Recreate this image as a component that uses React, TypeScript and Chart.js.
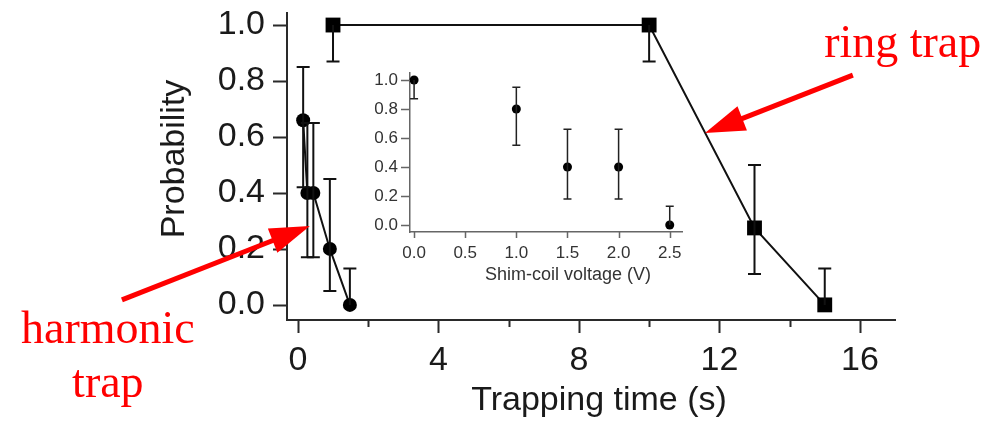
import React, { useEffect, useRef } from 'react';
import { Chart, registerables } from 'chart.js';

Chart.register(...registerables);

// ---------- data ----------
const harmonicTime = [0.15, 0.27, 0.44, 0.91, 1.48];
const harmonicProb = [0.66, 0.4, 0.4, 0.2, 0.0];
const harmonicLow = [0.42, 0.17, 0.17, 0.05, 0.0];
const harmonicHigh = [0.85, 0.65, 0.65, 0.45, 0.13];

const ringTime = [1.0, 10.0, 13.0, 15.0];
const ringProb = [1.0, 1.0, 0.275, 0.0];
const ringLow = [0.87, 0.87, 0.11, 0.0];
const ringHigh = [1.0, 1.0, 0.5, 0.13];

const shimVoltage = [0.0, 1.0, 1.5, 2.0, 2.5];
const shimProb = [1.0, 0.8, 0.4, 0.4, 0.0];
const shimLow = [0.87, 0.55, 0.18, 0.18, 0.0];
const shimHigh = [1.0, 0.95, 0.66, 0.66, 0.13];

// tick values / labels
const mainXTicks = [0, 2, 4, 6, 8, 10, 12, 14, 16];
const mainXLabeled = [0, 4, 8, 12, 16];
const mainYTicks = [0, 0.2, 0.4, 0.6, 0.8, 1.0];
const insetXTicks = [0, 0.5, 1.0, 1.5, 2.0, 2.5];
const insetYTicks = [0, 0.2, 0.4, 0.6, 0.8, 1.0];

// texts
const mainXTitle = 'Trapping time (s)';
const mainYTitle = 'Probability';
const insetXTitle = 'Shim-coil voltage (V)';

// annotations (in main-chart data coordinates)
const arrowTailTime = [-5.01, 15.8];
const arrowTailProb = [0.018, 0.821];
const arrowTipTime = [0.34, 11.59];
const arrowTipProb = [0.282, 0.614];
const noteText = ['ring trap', 'harmonic', 'trap'];
const noteTime = [17.22, -5.41, -5.41];
const noteProb = [0.886, -0.136, -0.329];

const SANS = '"Liberation Sans", Arial, Helvetica, sans-serif';
const SERIF = '"Liberation Serif", "Times New Roman", serif';

const pts = (xs: number[], ys: number[]) => xs.map((x, i) => ({ x, y: ys[i] }));

function errorBarPlugin(capHalf: number, lw: number, color: string) {
  return {
    id: 'errorBars',
    afterDatasetsDraw(chart: any) {
      const { ctx, scales } = chart;
      const x = scales.x, y = scales.y;
      chart.data.datasets.forEach((ds: any) => {
        if (!ds.errLow) return;
        ctx.save();
        ctx.strokeStyle = color;
        ctx.lineWidth = lw;
        ds.data.forEach((p: any, i: number) => {
          const px = x.getPixelForValue(p.x);
          const py = y.getPixelForValue(p.y);
          const yl = y.getPixelForValue(ds.errLow[i]);
          const yh = y.getPixelForValue(ds.errHigh[i]);
          ctx.beginPath();
          ctx.moveTo(px, yl);
          ctx.lineTo(px, yh);
          if (Math.abs(yl - py) > 1) {
            ctx.moveTo(px - capHalf, yl);
            ctx.lineTo(px + capHalf, yl);
          }
          if (Math.abs(yh - py) > 1) {
            ctx.moveTo(px - capHalf, yh);
            ctx.lineTo(px + capHalf, yh);
          }
          ctx.stroke();
        });
        ctx.restore();
      });
    },
  };
}

function tickMarkPlugin(cfg: {
  xTicks: number[];
  xMajor: number[];
  yTicks: number[];
  majorLen: number;
  minorLen: number;
  yLen: number;
  color: string;
  width: number;
}) {
  return {
    id: 'tickMarks',
    afterDraw(chart: any) {
      const { ctx, chartArea, scales } = chart;
      ctx.save();
      ctx.strokeStyle = cfg.color;
      ctx.lineWidth = cfg.width;
      ctx.beginPath();
      cfg.xTicks.forEach((v) => {
        const px = Math.round(scales.x.getPixelForValue(v)) + 0.5;
        const len = cfg.xMajor.includes(v) ? cfg.majorLen : cfg.minorLen;
        ctx.moveTo(px, chartArea.bottom);
        ctx.lineTo(px, chartArea.bottom + len);
      });
      cfg.yTicks.forEach((v) => {
        const py = Math.round(scales.y.getPixelForValue(v)) + 0.5;
        ctx.moveTo(chartArea.left - cfg.yLen, py);
        ctx.lineTo(chartArea.left, py);
      });
      ctx.stroke();
      ctx.restore();
    },
  };
}

function drawArrow(ctx: CanvasRenderingContext2D, x0: number, y0: number, x1: number, y1: number) {
  const headLen = 40;
  const headHalf = 13;
  const dx = x1 - x0, dy = y1 - y0;
  const L = Math.hypot(dx, dy);
  const ux = dx / L, uy = dy / L;
  const bx = x1 - ux * headLen, by = y1 - uy * headLen;
  ctx.lineWidth = 5;
  ctx.beginPath();
  ctx.moveTo(x0, y0);
  ctx.lineTo(bx + ux * 3, by + uy * 3);
  ctx.stroke();
  ctx.beginPath();
  ctx.moveTo(x1, y1);
  ctx.lineTo(bx - uy * headHalf, by + ux * headHalf);
  ctx.lineTo(bx + uy * headHalf, by - ux * headHalf);
  ctx.closePath();
  ctx.fill();
}

const mainTextPlugin = {
  id: 'mainTexts',
  afterDraw(chart: any) {
    const { ctx, chartArea, scales } = chart;
    const x = scales.x, y = scales.y;
    ctx.save();
    // axis titles
    ctx.fillStyle = '#1a1a1a';
    ctx.font = `34px ${SANS}`;
    ctx.textAlign = 'center';
    ctx.textBaseline = 'alphabetic';
    ctx.fillText(mainXTitle, chartArea.left + 312, chartArea.bottom + 90);
    ctx.save();
    ctx.translate(chartArea.left - 103, chartArea.top + 146);
    ctx.rotate(-Math.PI / 2);
    ctx.fillText(mainYTitle, 0, 0);
    ctx.restore();
    // red annotations
    ctx.strokeStyle = '#ff0000';
    ctx.fillStyle = '#ff0000';
    arrowTailTime.forEach((t, i) => {
      drawArrow(
        ctx,
        x.getPixelForValue(t),
        y.getPixelForValue(arrowTailProb[i]),
        x.getPixelForValue(arrowTipTime[i]),
        y.getPixelForValue(arrowTipProb[i])
      );
    });
    ctx.font = `46px ${SERIF}`;
    ctx.textAlign = 'center';
    noteText.forEach((s, i) => {
      ctx.fillText(s, x.getPixelForValue(noteTime[i]), y.getPixelForValue(noteProb[i]));
    });
    ctx.restore();
  },
};

const insetTextPlugin = {
  id: 'insetTexts',
  afterDraw(chart: any) {
    const { ctx, chartArea } = chart;
    ctx.save();
    ctx.fillStyle = '#333333';
    ctx.font = `18px ${SANS}`;
    ctx.textAlign = 'center';
    ctx.textBaseline = 'alphabetic';
    ctx.fillText(insetXTitle, chartArea.left + 158, chartArea.bottom + 48);
    ctx.restore();
  },
};

export default function App() {
  const mainRef = useRef<HTMLCanvasElement | null>(null);
  const insetRef = useRef<HTMLCanvasElement | null>(null);

  useEffect(() => {
    const mainCanvas = mainRef.current!;
    const insetCanvas = insetRef.current!;

    const mainChart = new Chart(mainCanvas, {
      type: 'scatter',
      data: {
        datasets: [
          {
            label: 'harmonic trap',
            data: pts(harmonicTime, harmonicProb),
            showLine: true,
            borderColor: '#111111',
            borderWidth: 2,
            pointStyle: 'circle',
            pointRadius: 7,
            pointBackgroundColor: '#000000',
            pointBorderWidth: 0,
            clip: false,
            errLow: harmonicLow,
            errHigh: harmonicHigh,
          } as any,
          {
            label: 'ring trap',
            data: pts(ringTime, ringProb),
            showLine: true,
            borderColor: '#111111',
            borderWidth: 2,
            pointStyle: 'rect',
            pointRadius: 10.5,
            pointBackgroundColor: '#000000',
            pointBorderWidth: 0,
            clip: false,
            errLow: ringLow,
            errHigh: ringHigh,
          } as any,
        ],
      },
      options: {
        responsive: false,
        animation: false,
        devicePixelRatio: 1,
        events: [],
        layout: { padding: { left: 0, top: 13, right: 108, bottom: 0 } },
        plugins: { legend: { display: false }, tooltip: { enabled: false } },
        scales: {
          x: {
            type: 'linear',
            min: -0.31,
            max: 17.0,
            afterBuildTicks: (s: any) => {
              s.ticks = mainXTicks.map((v) => ({ value: v }));
            },
            afterFit: (s: any) => {
              s.height = 101;
              s.paddingLeft = 0;
              s.paddingRight = 0;
            },
            grid: { display: false, drawTicks: false },
            border: { display: true, color: '#2a2a2a', width: 2 },
            ticks: {
              autoSkip: false,
              maxRotation: 0,
              padding: 20,
              color: '#1a1a1a',
              font: { family: SANS, size: 34 },
              callback: (v: any) => (mainXLabeled.includes(Number(v)) ? String(v) : ''),
            },
          },
          y: {
            type: 'linear',
            min: -0.054,
            max: 1.043,
            afterBuildTicks: (s: any) => {
              s.ticks = mainYTicks.map((v) => ({ value: v }));
            },
            afterFit: (s: any) => {
              s.width = 287;
              s.paddingTop = 0;
              s.paddingBottom = 0;
            },
            grid: { display: false, drawTicks: false },
            border: { display: true, color: '#2a2a2a', width: 2 },
            ticks: {
              autoSkip: false,
              padding: 22,
              color: '#1a1a1a',
              font: { family: SANS, size: 34 },
              callback: (v: any) => Number(v).toFixed(1),
            },
          },
        },
      } as any,
      plugins: [
        errorBarPlugin(6.5, 2, '#111111'),
        tickMarkPlugin({
          xTicks: mainXTicks,
          xMajor: mainXLabeled,
          yTicks: mainYTicks,
          majorLen: 13,
          minorLen: 7,
          yLen: 14,
          color: '#2a2a2a',
          width: 2,
        }),
        mainTextPlugin,
      ],
    });

    const insetChart = new Chart(insetCanvas, {
      type: 'scatter',
      data: {
        datasets: [
          {
            label: 'shim',
            data: pts(shimVoltage, shimProb),
            showLine: false,
            pointStyle: 'circle',
            pointRadius: 4.5,
            pointBackgroundColor: '#000000',
            pointBorderWidth: 0,
            clip: false,
            errLow: shimLow,
            errHigh: shimHigh,
          } as any,
        ],
      },
      options: {
        responsive: false,
        animation: false,
        devicePixelRatio: 1,
        events: [],
        layout: { padding: { left: 0, top: 13, right: 18, bottom: 0 } },
        plugins: { legend: { display: false }, tooltip: { enabled: false } },
        scales: {
          x: {
            type: 'linear',
            min: -0.04,
            max: 2.62,
            afterBuildTicks: (s: any) => {
              s.ticks = insetXTicks.map((v) => ({ value: v }));
            },
            afterFit: (s: any) => {
              s.height = 68;
              s.paddingLeft = 0;
              s.paddingRight = 0;
            },
            grid: { display: false, drawTicks: false },
            border: { display: true, color: '#666666', width: 1.5 },
            ticks: {
              autoSkip: false,
              maxRotation: 0,
              padding: 11,
              color: '#333333',
              font: { family: SANS, size: 17 },
              callback: (v: any) => Number(v).toFixed(1),
            },
          },
          y: {
            type: 'linear',
            min: -0.048,
            max: 1.048,
            afterBuildTicks: (s: any) => {
              s.ticks = insetYTicks.map((v) => ({ value: v }));
            },
            afterFit: (s: any) => {
              s.width = 70;
              s.paddingTop = 0;
              s.paddingBottom = 0;
            },
            grid: { display: false, drawTicks: false },
            border: { display: true, color: '#666666', width: 1.5 },
            ticks: {
              autoSkip: false,
              padding: 12,
              color: '#333333',
              font: { family: SANS, size: 17 },
              callback: (v: any) => Number(v).toFixed(1),
            },
          },
        },
      } as any,
      plugins: [
        errorBarPlugin(4, 1.5, '#222222'),
        tickMarkPlugin({
          xTicks: insetXTicks,
          xMajor: insetXTicks,
          yTicks: insetYTicks,
          majorLen: 6,
          minorLen: 6,
          yLen: 9,
          color: '#666666',
          width: 1.5,
        }),
        insetTextPlugin,
      ],
    });

    return () => {
      mainChart.destroy();
      insetChart.destroy();
    };
  }, []);

  return (
    <div
      style={{
        position: 'fixed',
        left: 0,
        top: 0,
        width: 1003,
        height: 421,
        background: '#ffffff',
        overflow: 'hidden',
      }}
    >
      <canvas
        ref={mainRef}
        width={1003}
        height={421}
        style={{ position: 'absolute', left: 0, top: 0, width: 1003, height: 421, display: 'block' }}
      />
      <canvas
        ref={insetRef}
        width={360}
        height={240}
        style={{ position: 'absolute', left: 340, top: 60, width: 360, height: 240, display: 'block' }}
      />
    </div>
  );
}
